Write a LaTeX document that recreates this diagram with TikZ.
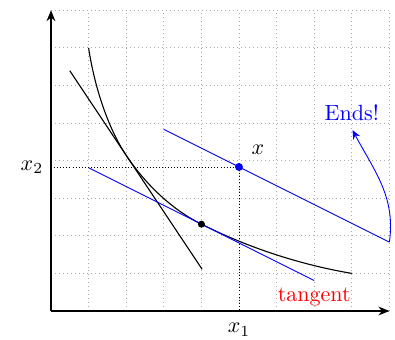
\documentclass[tikz,border=0pt]{standalone}
\usetikzlibrary{arrows.meta}
\begin{document}
\begin{tikzpicture}[x=0.6cm,y=0.6cm,
  gridline/.style={gray!65, dash pattern=on 0.4pt off 1.4pt, line width=0.4pt},
  axis/.style={semithick, -{Stealth[length=5pt,width=4pt]}},
  curve/.style={line width=0.5pt},
  proj/.style={densely dotted},
  bluel/.style={blue},
  dotpt/.style={circle, fill, inner sep=0pt, minimum size=3.2pt}]
\useasboundingbox (-1.356,-0.771) rectangle (9.149,8.271);
\draw[gridline, step=1] (0,0) grid (9,8);
% axes
\coordinate (O) at (0,0);
\coordinate (X) at (9,0);
\coordinate (Y) at (0,8);
\draw[axis] (O) -- (X);
\draw[axis] (O) -- (Y);
% indifference curve
\coordinate (c0) at (1,7);
\coordinate (c1) at (2,4.14);
\coordinate (c2) at (4,2.31);
\coordinate (c3) at (8,1);
\draw[curve] (c0) .. controls (1.15,6.0) and (1.5,4.89) .. (c1)
  .. controls (2.5,3.39) and (3.195,2.71) .. (c2)
  .. controls (5.25,1.684) and (6.62,1.234) .. (c3);
% steep tangent
\coordinate (s0) at (0.5,6.39);
\coordinate (s1) at (4.02,1.11);
\draw[curve] (s0) -- (s1);
% blue tangent at the dot
\coordinate (b0) at (1,3.81);
\coordinate (b1) at (7,0.81);
\draw[bluel] (b0) -- (b1);
\node[dotpt, black] (t) at (c2) {};
\node[red, below] (tang) at (b1) {tangent};
% point x and parallel line
\coordinate (p0) at (3,4.83);
\coordinate (p1) at (9,1.83);
\coordinate (px) at (5,0);
\coordinate (py) at (0,3.83);
\draw[proj] (py) -- (5,3.83) -- (px);
\draw[bluel] (p0) -- (p1);
\node[dotpt, blue, minimum size=3.6pt] (x) at (5,3.83) {};
\node (xl) at (5.5,4.28) {$x$};
\node[left] (x2) at (py) {$x_2$};
\node (x1) at (5,-0.5) {$x_1$};
% Ends
\node[blue] (ends) at (8,5.27) {Ends!};
\coordinate (e) at (8.02,4.81);
\draw[blue, -{Stealth[length=4pt,width=3.5pt]}] (p1) to[out=82,in=-62] (e);
\end{tikzpicture}
\end{document}
